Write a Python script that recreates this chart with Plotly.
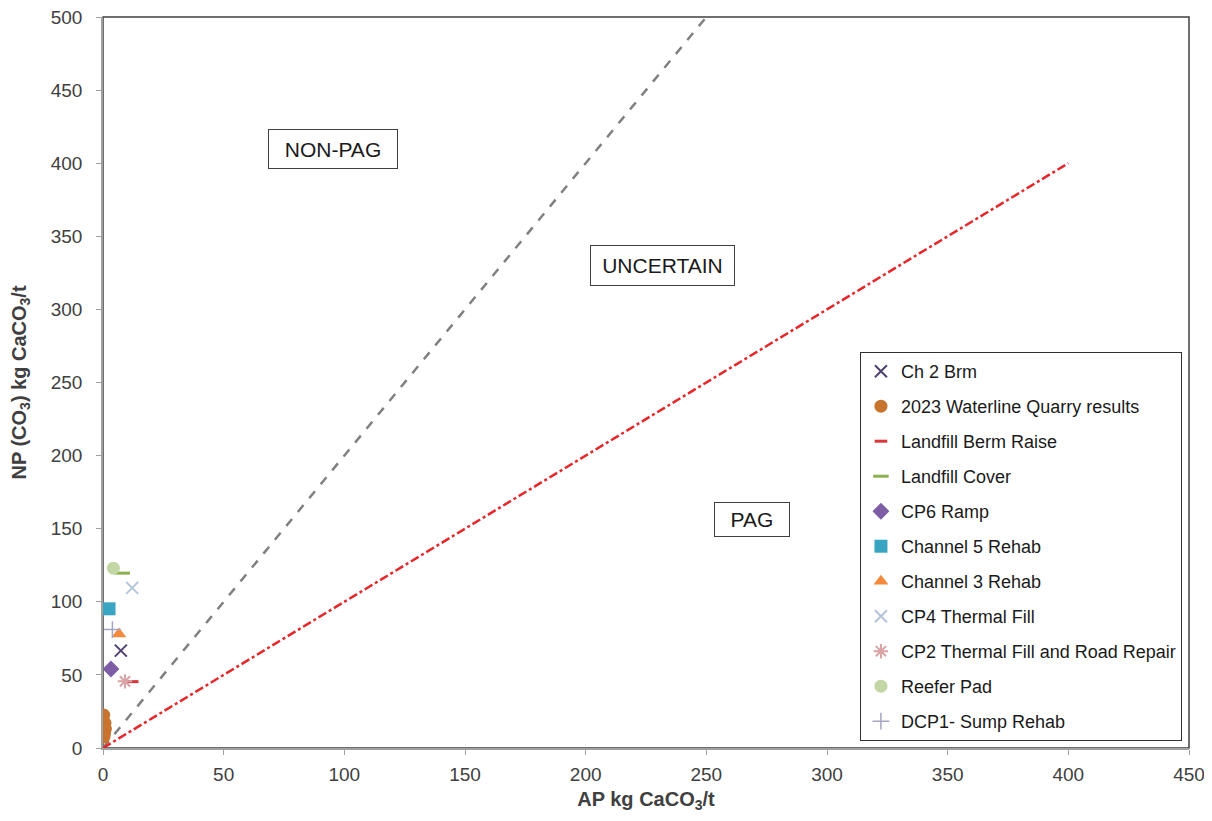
import plotly.graph_objects as go

# ---- data ----
ch2_brm_ap = [7.4]
ch2_brm_np = [66.6]
waterline_ap = [0.3, 0.8, 1.0, 0.6, 0.4]
waterline_np = [22.5, 17.0, 13.0, 10.0, 7.5]
berm_raise_ap = [12.1]
berm_raise_np = [45.4]
landfill_cover_ap = [8.0]
landfill_cover_np = [119.6]
cp6_ap = [3.3]
cp6_np = [54.0]
ch5_ap = [2.5]
ch5_np = [95.2]
ch3_ap = [6.6]
ch3_np = [78.0]
cp4_ap = [12.1]
cp4_np = [109.5]
cp2_ap = [9.1]
cp2_np = [45.6]
reefer_ap = [4.3]
reefer_np = [123.0]
dcp1_ap = [3.9]
dcp1_np = [81.0]

npr2_x = [0, 250]
npr2_y = [0, 500]
npr1_x = [0, 400]
npr1_y = [0, 400]

x_ticks = [0, 50, 100, 150, 200, 250, 300, 350, 400, 450]
y_ticks = [0, 50, 100, 150, 200, 250, 300, 350, 400, 450, 500]

FONT = "Liberation Sans, Arial, sans-serif"

fig = go.Figure()

fig.add_trace(go.Scatter(x=npr2_x, y=npr2_y, mode="lines", showlegend=False,
                         line=dict(color="#808080", width=2.5, dash="dash"), hoverinfo="skip"))
fig.add_trace(go.Scatter(x=npr1_x, y=npr1_y, mode="lines", showlegend=False,
                         line=dict(color="#e8262a", width=2.5, dash="dashdot"), hoverinfo="skip"))

series = [
    ("Ch 2 Brm", ch2_brm_ap, ch2_brm_np, dict(symbol="x-thin", size=12, color="#4f4272",
                                              line=dict(color="#4f4272", width=2))),
    ("2023 Waterline Quarry results", waterline_ap, waterline_np, dict(symbol="circle", size=13, color="#c8732e")),
    ("Landfill Berm Raise", berm_raise_ap, berm_raise_np, dict(symbol="line-ew", size=9, color="#d9373a",
                                                               line=dict(color="#d9373a", width=3))),
    ("Landfill Cover", landfill_cover_ap, landfill_cover_np, dict(symbol="line-ew", size=11, color="#8cb04e",
                                                                  line=dict(color="#8cb04e", width=3))),
    ("CP6 Ramp", cp6_ap, cp6_np, dict(symbol="diamond", size=13, color="#7d5ea6")),
    ("Channel 5 Rehab", ch5_ap, ch5_np, dict(symbol="square", size=13, color="#3aa5c2")),
    ("Channel 3 Rehab", ch3_ap, ch3_np, dict(symbol="triangle-up", size=13, color="#f58a3c")),
    ("CP4 Thermal Fill", cp4_ap, cp4_np, dict(symbol="x-thin", size=12, color="#b4c3dc",
                                              line=dict(color="#b4c3dc", width=2))),
    ("CP2 Thermal Fill and Road Repair", cp2_ap, cp2_np, dict(symbol="asterisk", size=12, color="#d9a3a5",
                                                              line=dict(color="#d9a3a5", width=2))),
    ("Reefer Pad", reefer_ap, reefer_np, dict(symbol="circle", size=13, color="#c2d6a6")),
    ("DCP1- Sump Rehab", dcp1_ap, dcp1_np, dict(symbol="cross-thin", size=12, color="#a4a4c4",
                                                line=dict(color="#a4a4c4", width=1.5))),
]

for name, xs, ys, mk in series:
    fig.add_trace(go.Scatter(x=xs, y=ys, mode="markers", name=name, marker=mk,
                             legendgroup=name))

annots = [
    ("NON-PAG", 95.4, 409.5, 126, 36),
    ("UNCERTAIN", 231.8, 329.7, 141, 37),
    ("PAG", 268.9, 156.0, 72, 31),
]
annotations = []
for txt, ax, ay, w, h in annots:
    annotations.append(dict(x=ax, y=ay, xref="x", yref="y", text=txt, showarrow=False,
                            font=dict(family=FONT, size=21, color="#1a1a1a"),
                            bordercolor="#404040", borderwidth=1, borderpad=1,
                            bgcolor="white", width=w, height=h))

# page body has an 8px default margin; size the figure so it fits the 1212x821 window
fig.update_layout(
    width=1196, height=805,
    margin=dict(l=95, r=15, t=9, b=65),
    paper_bgcolor="white", plot_bgcolor="white",
    font=dict(family=FONT, color="#404040", size=18),
    annotations=annotations,
    showlegend=True,
    legend=dict(x=0.697, y=0.5417, xanchor="left", yanchor="top",
                bordercolor="#303030", borderwidth=1, bgcolor="white",
                font=dict(family=FONT, size=18, color="#1a1a1a"),
                tracegroupgap=8.6, itemwidth=30),
    shapes=[dict(type="rect", xref="paper", yref="paper", x0=0, y0=0, x1=1, y1=1,
                 line=dict(color="#404040", width=1.5), layer="below")],
)

fig.update_xaxes(range=[0, 450], tickvals=x_ticks, ticks="outside", ticklen=5, tickcolor="#a0a0a0",
                 showline=True, linecolor="#a0a0a0", linewidth=1.5, showgrid=False, zeroline=False,
                 automargin=False, ticklabelstandoff=3, ticklabeloverflow="allow",
                 tickfont=dict(family=FONT, size=19, color="#404040"),
                 title=dict(text="<b>AP kg CaCO<sub>3</sub>/t</b>", font=dict(family=FONT, size=20, color="#404040"),
                            standoff=14))
fig.update_yaxes(range=[0, 500], tickvals=y_ticks, ticks="outside", ticklen=5, tickcolor="#a0a0a0",
                 showline=True, linecolor="#a0a0a0", linewidth=1.5, showgrid=False, zeroline=False,
                 automargin=False, ticklabelstandoff=10, ticklabeloverflow="allow",
                 tickfont=dict(family=FONT, size=19, color="#404040"),
                 title=dict(text="<b>NP (CO<sub>3</sub>) kg CaCO<sub>3</sub>/t</b>",
                            font=dict(family=FONT, size=20, color="#404040"), standoff=22))

fig.write_html("out.html")
